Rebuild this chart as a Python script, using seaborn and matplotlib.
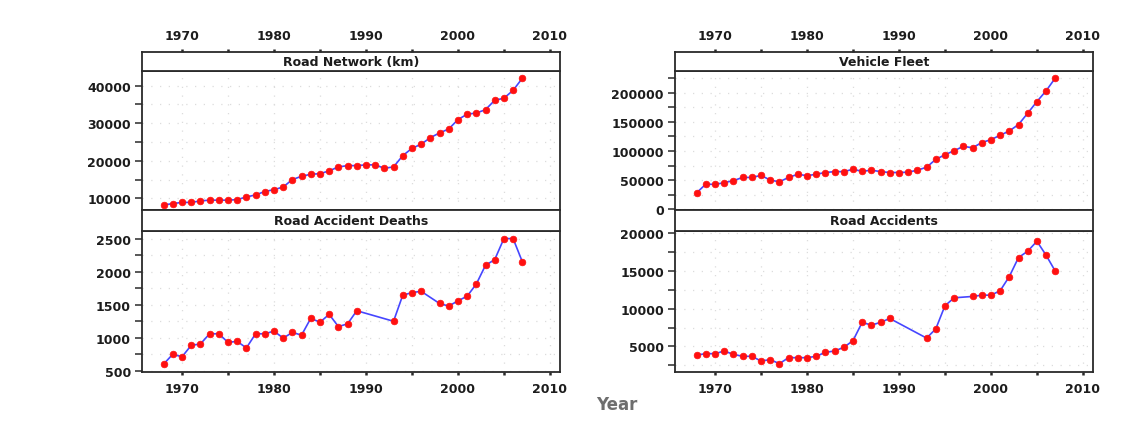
import matplotlib
matplotlib.use("Agg")
import matplotlib.pyplot as plt
from matplotlib.ticker import MultipleLocator, FuncFormatter
import seaborn as sns
import pandas as pd

# ---- data -------------------------------------------------------------
years_full = list(range(1968, 2008))

road_network_km = [8200, 8600, 8900, 8900, 9300, 9500, 9500, 9500, 9650, 10350,
                   10900, 11800, 12300, 13000, 15000, 15850, 16400, 16550, 17300, 18350,
                   18700, 18700, 18900, 18900, 18000, 18350, 21350, 23300, 24400, 26150,
                   27400, 28450, 30950, 32400, 32700, 33600, 36100, 36650, 38750, 41950]

vehicle_fleet = [28000, 43000, 42500, 45500, 49000, 54500, 54500, 58000, 50000, 47000,
                 54500, 60000, 57500, 60000, 63000, 64500, 64500, 68500, 65000, 67000,
                 64500, 63000, 63000, 63500, 67000, 72000, 85500, 93500, 100500, 108000,
                 105500, 114500, 119500, 127000, 134500, 145500, 165000, 185000, 203500, 225500]

years_partial = [1968, 1969, 1970, 1971, 1972, 1973, 1974, 1975, 1976, 1977,
                 1978, 1979, 1980, 1981, 1982, 1983, 1984, 1985, 1986, 1987,
                 1988, 1989, 1993, 1994, 1995, 1996, 1998, 1999, 2000, 2001,
                 2002, 2003, 2004, 2005, 2006, 2007]

accident_deaths = [600, 750, 710, 885, 905, 1060, 1060, 930, 945, 845,
                   1060, 1060, 1100, 995, 1080, 1040, 1295, 1235, 1355, 1170,
                   1210, 1410, 1250, 1645, 1685, 1705, 1520, 1480, 1560, 1630,
                   1815, 2100, 2185, 2505, 2505, 2155]

road_accidents = [3850, 4030, 4030, 4380, 3940, 3680, 3680, 3060, 3240, 2710,
                  3500, 3500, 3500, 3680, 4210, 4380, 4870, 5750, 8180, 7820,
                  8180, 8700, 6100, 7300, 10380, 11440, 11620, 11790, 11790, 12370,
                  14260, 16780, 17620, 18940, 17090, 14970]

panel_titles = ["Road Network (km)", "Vehicle Fleet", "Road Accident Deaths", "Road Accidents"]
x_tick_labels = [1970, 1980, 1990, 2000, 2010]

# ---- styling ------------------------------------------------------------
sns.set_style("white")
plt.rcParams["font.family"] = ["DejaVu Sans"]

W, H = 1143, 427
fig = plt.figure(figsize=(W / 100, H / 100), dpi=100)
fig.patch.set_facecolor("white")

LINE_C = "#4646ff"
DOT_C = "#ff1010"
FRAME_C = "#2a2a2a"
TEXT_C = "#1c1c1c"
XLIM = (1965.65, 2011.1)


def rect(x0, x1, ytop, ybot):
    return [x0 / W, 1 - ybot / H, (x1 - x0) / W, (ybot - ytop) / H]


def style_frame(ax):
    for s in ax.spines.values():
        s.set_color(FRAME_C)
        s.set_linewidth(1.3)
        s.set_visible(True)


cols = [(142, 560), (675, 1093)]
rows = [dict(strip=(53, 72), plot=(72, 211), top=True),
        dict(strip=(211, 232), plot=(232, 373), top=False)]

series = [
    (years_full, road_network_km, (6880, 43900), 10000, 5000),
    (years_full, vehicle_fleet, (-1500, 237600), 50000, 25000),
    (years_partial, accident_deaths, (480, 2620), 500, 250),
    (years_partial, road_accidents, (1600, 20300), 5000, 2500),
]

fmt = FuncFormatter(lambda v, p: f"{int(round(v))}")

for i, (xs, ys, ylim, major, minor) in enumerate(series):
    r = rows[i // 2]
    x0, x1 = cols[i % 2]

    ax = fig.add_axes(rect(x0, x1, *r["plot"]))
    df = pd.DataFrame({"year": xs, "value": ys})
    sns.lineplot(data=df, x="year", y="value", ax=ax, color=LINE_C, linewidth=1.2,
                 marker="o", markersize=4.8, markerfacecolor=DOT_C,
                 markeredgecolor=DOT_C, markeredgewidth=0.5, errorbar=None)
    ax.set_xlim(*XLIM)
    ax.set_ylim(*ylim)
    ax.set_xlabel("")
    ax.set_ylabel("")
    style_frame(ax)

    ax.xaxis.set_major_locator(MultipleLocator(10))
    ax.xaxis.set_minor_locator(MultipleLocator(5))
    ax.yaxis.set_major_locator(MultipleLocator(major))
    ax.yaxis.set_minor_locator(MultipleLocator(minor))
    ax.yaxis.set_major_formatter(fmt)

    ax.grid(which="both", color="#dcdcdc", linestyle=(0, (1, 6)), linewidth=0.9)
    ax.tick_params(axis="y", which="both", left=True, right=False, direction="out",
                   length=5, width=1.1, color=FRAME_C, pad=3,
                   labelsize=9, labelcolor=TEXT_C)
    for lab in ax.get_yticklabels():
        lab.set_fontweight("bold")

    if r["top"]:
        ax.tick_params(axis="x", which="both", bottom=False, top=False,
                       labelbottom=False, labeltop=False)
    else:
        ax.tick_params(axis="x", which="both", bottom=True, top=False, direction="out",
                       length=2.5, width=1.8, color=FRAME_C, pad=5,
                       labelsize=9, labelcolor=TEXT_C)
        ax.set_xticks(x_tick_labels)
        for lab in ax.get_xticklabels():
            lab.set_fontweight("bold")

    # strip with the panel name
    sax = fig.add_axes(rect(x0, x1, *r["strip"]))
    sax.set_facecolor("white")
    sax.set_xlim(*XLIM)
    sax.set_yticks([])
    style_frame(sax)
    sax.text(0.5, 0.5, panel_titles[i], transform=sax.transAxes, ha="center",
             va="center", fontsize=9, fontweight="bold", color=TEXT_C)
    if r["top"]:
        sax.xaxis.set_major_locator(MultipleLocator(10))
        sax.xaxis.set_minor_locator(MultipleLocator(5))
        sax.set_xticks(x_tick_labels)
        sax.tick_params(axis="x", which="both", bottom=False, top=True,
                        labelbottom=False, labeltop=True, direction="out",
                        length=2.5, width=1.8, color=FRAME_C, pad=5,
                        labelsize=9, labelcolor=TEXT_C)
        for lab in sax.get_xticklabels():
            lab.set_fontweight("bold")
    else:
        sax.set_xticks([])

fig.text(617 / W, 1 - 405 / H, "Year", ha="center", va="center",
         fontsize=12, fontweight="bold", color="#6e6e6e")

fig.savefig("out.png", dpi=100, facecolor="white")
